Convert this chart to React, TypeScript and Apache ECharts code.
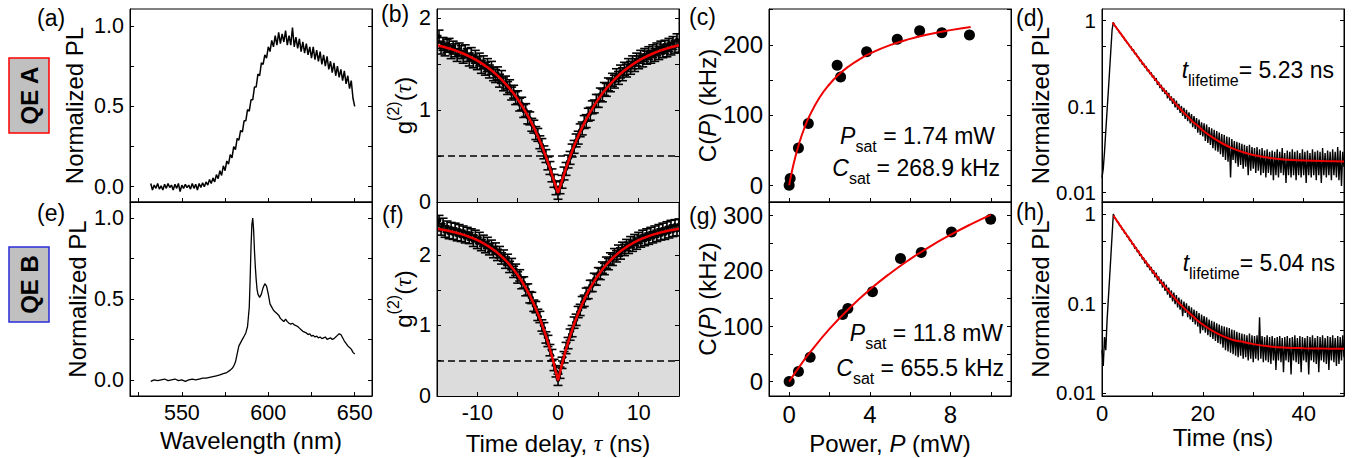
import React, { useEffect, useRef } from 'react';
import * as echarts from 'echarts';

const FONT = '"Liberation Sans", Arial, Helvetica, sans-serif';
const SERIF = '"Liberation Serif", "Times New Roman", serif';
const RED = '#f00000';

// ---------- (a) QE A PL spectrum, 1 nm bins from 532 nm ----------
const A_WL_START = 532;
const A_WL_STEP = 1;
const A_PL = [
  0.02, -0.02, 0.01, -0.01, 0.02, -0.015, 0.005, -0.02, 0.015, -0.01,
  0.02, -0.005, 0.01, -0.02, 0.015, -0.01, 0.02, -0.03, 0.01, -0.01,
  0.015, -0.005, 0.01, -0.015, 0.02, -0.01, 0.015, -0.02, 0.02, -0.005,
  0.025, 0.0, 0.03, 0.01, 0.045, 0.02, 0.055, 0.03, 0.075, 0.05,
  0.1, 0.07, 0.13, 0.1, 0.16, 0.14, 0.2, 0.18, 0.25, 0.23,
  0.3, 0.29, 0.35, 0.34, 0.41, 0.41, 0.48, 0.47, 0.54, 0.54,
  0.62, 0.62, 0.7, 0.69, 0.77, 0.76, 0.82, 0.8, 0.87, 0.84,
  0.91, 0.87, 0.94, 0.88, 0.96, 0.89, 0.95, 0.9, 0.97, 0.88,
  0.94, 0.88, 0.99, 0.87, 0.93, 0.86, 0.92, 0.84, 0.9, 0.83,
  0.89, 0.82, 0.87, 0.8, 0.87, 0.79, 0.85, 0.78, 0.84, 0.76,
  0.82, 0.75, 0.81, 0.73, 0.78, 0.71, 0.77, 0.69, 0.75, 0.68,
  0.73, 0.66, 0.72, 0.64, 0.69, 0.61, 0.66, 0.55, 0.5,
];

// ---------- (e) QE B PL spectrum ----------
const E_WL = [
  532, 534, 536, 538, 540, 542, 544, 546, 548, 550, 552, 554, 556, 558, 560, 562, 564, 566, 568, 570, 572, 574, 576, 578,
  579, 580, 581, 582, 583, 584, 585, 586, 587, 588, 589,
  589.5, 590, 590.5, 591, 591.5, 592, 592.5, 593, 593.5,
  594, 595, 596, 597, 598, 599, 600, 601, 602, 603, 604, 605, 606, 607, 608, 609, 610, 611, 612, 613,
  614, 615, 616, 617, 618, 619, 620, 621, 622, 623, 624, 625, 626, 627, 628, 629, 630, 631, 632, 633,
  634, 635, 636, 637, 638, 639, 640, 641, 642, 643, 644, 645, 646, 647, 648, 649, 650,
];
const E_PL = [
  -0.01, 0.0, -0.005, 0.0, 0.005, -0.005, 0.0, 0.005, -0.005, 0.0, -0.01, 0.0, 0.005, 0.0, 0.005, 0.01, 0.01, 0.015, 0.02, 0.025, 0.03, 0.038, 0.045, 0.06,
  0.07, 0.085, 0.11, 0.16, 0.21, 0.23, 0.25, 0.27, 0.29, 0.33, 0.45,
  0.62, 0.82, 0.96, 1.0, 0.93, 0.8, 0.7, 0.62, 0.56,
  0.53, 0.51, 0.53, 0.57, 0.595, 0.58, 0.53, 0.47, 0.45, 0.43, 0.42, 0.41, 0.4, 0.38, 0.37, 0.36, 0.375, 0.36, 0.35, 0.345,
  0.35, 0.34, 0.335, 0.33, 0.32, 0.31, 0.3, 0.295, 0.29, 0.28, 0.285, 0.27, 0.275, 0.265, 0.27, 0.26, 0.265, 0.255, 0.26, 0.265,
  0.25, 0.255, 0.26, 0.25, 0.255, 0.265, 0.275, 0.285, 0.28, 0.26, 0.24, 0.225, 0.21, 0.2, 0.19, 0.17, 0.16,
];

// ---------- (b)/(f) g2(tau), 0.25 ns bins from -15 ns ----------
const TAU_START = -15;
const TAU_STEP = 0.25;
const B_G2 = [
  1.74, 1.80, 1.68, 1.72, 1.66, 1.70, 1.71, 1.63, 1.68, 1.65,
  1.60, 1.66, 1.63, 1.58, 1.64, 1.60, 1.55, 1.61, 1.53, 1.58,
  1.51, 1.55, 1.47, 1.52, 1.45, 1.49, 1.42, 1.46, 1.39, 1.37,
  1.40, 1.32, 1.36, 1.28, 1.30, 1.24, 1.26, 1.18, 1.20, 1.13,
  1.14, 1.06, 1.07, 0.99, 1.00, 0.92, 0.91, 0.84, 0.82, 0.75,
  0.73, 0.65, 0.62, 0.54, 0.50, 0.42, 0.37, 0.29, 0.23, 0.15,
  0.10,
  0.16, 0.22, 0.31, 0.36, 0.44, 0.48, 0.56, 0.60, 0.67, 0.70,
  0.78, 0.80, 0.87, 0.88, 0.95, 0.96, 1.03, 1.04, 1.10, 1.10,
  1.17, 1.16, 1.23, 1.22, 1.28, 1.27, 1.33, 1.31, 1.38, 1.35,
  1.42, 1.39, 1.45, 1.43, 1.49, 1.46, 1.52, 1.49, 1.55, 1.52,
  1.58, 1.54, 1.60, 1.57, 1.62, 1.58, 1.64, 1.60, 1.66, 1.62,
  1.68, 1.64, 1.69, 1.65, 1.71, 1.67, 1.73, 1.69, 1.76, 1.70,
];
const B_ERR = 0.07;
const FIT_TAU_STEP = 0.5;
const B_FIT = [
  1.706, 1.695, 1.683, 1.671, 1.656, 1.641, 1.624, 1.605, 1.585, 1.562, 1.538, 1.511, 1.481, 1.449, 1.414, 1.375,
  1.333, 1.286, 1.236, 1.180, 1.119, 1.052, 0.979, 0.899, 0.812, 0.716, 0.611, 0.495, 0.369, 0.231, 0.10,
  0.231, 0.369, 0.495, 0.611, 0.716, 0.812, 0.899, 0.979, 1.052, 1.119, 1.180, 1.236, 1.286, 1.333, 1.375,
  1.414, 1.449, 1.481, 1.511, 1.538, 1.562, 1.585, 1.605, 1.624, 1.641, 1.656, 1.671, 1.683, 1.695, 1.706,
];
const F_G2 = [
  2.42, 2.48, 2.36, 2.44, 2.33, 2.40, 2.31, 2.38, 2.30, 2.37,
  2.28, 2.35, 2.27, 2.33, 2.25, 2.31, 2.24, 2.29, 2.20, 2.27,
  2.17, 2.24, 2.14, 2.20, 2.11, 2.17, 2.08, 2.13, 2.04, 2.09,
  2.00, 2.04, 1.95, 1.99, 1.89, 1.93, 1.83, 1.87, 1.76, 1.79,
  1.68, 1.71, 1.60, 1.61, 1.50, 1.51, 1.40, 1.39, 1.28, 1.26,
  1.15, 1.12, 1.00, 0.96, 0.83, 0.78, 0.65, 0.58, 0.44, 0.35,
  0.23,
  0.33, 0.47, 0.55, 0.68, 0.75, 0.87, 0.92, 1.04, 1.08, 1.19,
  1.22, 1.33, 1.35, 1.45, 1.46, 1.56, 1.56, 1.66, 1.65, 1.74,
  1.73, 1.82, 1.80, 1.89, 1.87, 1.95, 1.93, 2.01, 1.98, 2.06,
  2.02, 2.10, 2.07, 2.14, 2.10, 2.18, 2.13, 2.21, 2.16, 2.24,
  2.19, 2.27, 2.21, 2.29, 2.23, 2.31, 2.25, 2.33, 2.27, 2.35,
  2.29, 2.37, 2.30, 2.39, 2.32, 2.41, 2.34, 2.42, 2.35, 2.43,
];
const F_ERR = 0.08;
const F_FIT = [
  2.370, 2.361, 2.351, 2.339, 2.326, 2.311, 2.295, 2.277, 2.256, 2.234, 2.208, 2.180, 2.148, 2.113, 2.073, 2.029,
  1.979, 1.924, 1.862, 1.793, 1.716, 1.630, 1.533, 1.426, 1.305, 1.171, 1.020, 0.853, 0.665, 0.455, 0.22,
  0.455, 0.665, 0.853, 1.020, 1.171, 1.305, 1.426, 1.533, 1.630, 1.716, 1.793, 1.862, 1.924, 1.979, 2.029,
  2.073, 2.113, 2.148, 2.180, 2.208, 2.234, 2.256, 2.277, 2.295, 2.311, 2.326, 2.339, 2.351, 2.361, 2.370,
];

// ---------- (c)/(g) saturation ----------
const C_P = [0, 0.05, 0.46, 0.95, 2.38, 2.55, 3.84, 5.36, 6.47, 7.57, 8.94];
const C_RATE = [0, 9.5, 53, 88, 171, 154, 190, 208, 220, 217, 214];
const C_FIT_P = [0, 0.1, 0.25, 0.5, 0.75, 1, 1.5, 2, 2.5, 3, 3.5, 4, 5, 6, 7, 8, 9];
const C_FIT = [0, 14.6, 33.8, 60.0, 81.0, 98.1, 124.5, 143.8, 158.6, 170.2, 179.6, 187.4, 199.5, 208.4, 215.4, 220.9, 225.3];
const G_P = [0, 0.46, 1.04, 2.65, 2.91, 4.13, 5.52, 6.55, 8.05, 9.99];
const G_RATE = [0, 18, 44, 121, 132, 162, 222, 233, 270, 293];
const G_FIT_P = [0, 0.5, 1, 2, 3, 4, 5, 6, 7, 8, 9, 10];
const G_FIT = [0, 26.6, 51.2, 95.0, 132.9, 166.0, 195.1, 221.0, 244.1, 264.8, 283.6, 300.7];

// ---------- (d)/(h) PL decay, 0.25 ns bins from 0 ns ----------
const T_START = 0;
const T_STEP = 0.25;
const D_PL = [
  0.015, 0.019, 0.03, 0.052, 0.089, 0.15, 0.26, 0.45,
  0.78, 0.96, 0.88, 0.85, 0.80, 0.78, 0.72, 0.71,
  0.66, 0.65, 0.60, 0.59, 0.55, 0.54, 0.50, 0.50,
  0.45, 0.46, 0.41, 0.42, 0.38, 0.38, 0.34, 0.35,
  0.31, 0.32, 0.285, 0.295, 0.26, 0.27, 0.24, 0.25,
  0.22, 0.23, 0.20, 0.215, 0.18, 0.195, 0.165, 0.18,
  0.15, 0.165, 0.14, 0.155, 0.125, 0.145, 0.118, 0.132,
  0.108, 0.125, 0.098, 0.118, 0.092, 0.108, 0.085, 0.102,
  0.078, 0.097, 0.072, 0.092, 0.068, 0.086, 0.064, 0.082,
  0.058, 0.078, 0.055, 0.074, 0.05, 0.071, 0.047, 0.066,
  0.045, 0.064, 0.04, 0.062, 0.038, 0.058, 0.036, 0.056,
  0.033, 0.054, 0.031, 0.052, 0.03, 0.05, 0.028, 0.048,
  0.026, 0.047, 0.024, 0.045, 0.023, 0.044, 0.015, 0.042,
  0.024, 0.04, 0.022, 0.039, 0.02, 0.038, 0.021, 0.037,
  0.019, 0.036, 0.02, 0.035, 0.016, 0.036, 0.018, 0.034,
  0.019, 0.033, 0.017, 0.034, 0.018, 0.032, 0.016, 0.033,
  0.017, 0.031, 0.015, 0.032, 0.017, 0.03, 0.016, 0.031,
  0.014, 0.03, 0.016, 0.032, 0.015, 0.03, 0.017, 0.033,
  0.016, 0.029, 0.013, 0.031, 0.016, 0.03, 0.015, 0.032,
  0.016, 0.03, 0.014, 0.031, 0.016, 0.029, 0.015, 0.032,
  0.016, 0.03, 0.013, 0.031, 0.016, 0.029, 0.015, 0.032,
  0.016, 0.03, 0.014, 0.031, 0.016, 0.03, 0.013, 0.033,
  0.016, 0.029, 0.015, 0.031, 0.016, 0.03, 0.014, 0.032,
  0.016, 0.03, 0.015, 0.034, 0.014, 0.031, 0.012, 0.03,
  0.02,
];
const D_FIT_T = [2.1, 2.5, 3, 3.5, 4, 5, 6, 7, 8, 9, 10, 11, 12, 13, 14, 15, 16, 17, 18, 19, 20, 22, 24, 26, 28, 30, 33, 36, 40, 44, 48];
const D_FIT = [0.953, 0.885, 0.806, 0.735, 0.670, 0.557, 0.464, 0.387, 0.324, 0.271, 0.228, 0.193, 0.163, 0.139, 0.119, 0.102, 0.088, 0.077, 0.067, 0.060, 0.053, 0.0437, 0.0371, 0.0326, 0.0296, 0.0275, 0.0255, 0.0244, 0.0237, 0.0233, 0.0231];
const H_PL = [
  0.03, 0.02, 0.042, 0.03, 0.064, 0.11, 0.19, 0.33,
  0.58, 1.0, 0.91, 0.88, 0.82, 0.80, 0.74, 0.73,
  0.67, 0.665, 0.61, 0.61, 0.55, 0.56, 0.50, 0.51,
  0.455, 0.465, 0.41, 0.425, 0.375, 0.39, 0.34, 0.355,
  0.31, 0.325, 0.28, 0.30, 0.255, 0.275, 0.235, 0.255,
  0.215, 0.235, 0.195, 0.22, 0.18, 0.2, 0.165, 0.185,
  0.15, 0.175, 0.138, 0.162, 0.125, 0.15, 0.115, 0.14,
  0.105, 0.132, 0.098, 0.124, 0.09, 0.116, 0.085, 0.11,
  0.072, 0.105, 0.078, 0.1, 0.07, 0.094, 0.066, 0.09,
  0.062, 0.085, 0.058, 0.082, 0.055, 0.078, 0.046, 0.075,
  0.05, 0.072, 0.047, 0.07, 0.044, 0.066, 0.042, 0.064,
  0.04, 0.062, 0.038, 0.06, 0.036, 0.058, 0.035, 0.056,
  0.032, 0.055, 0.03, 0.054, 0.029, 0.053, 0.028, 0.051,
  0.027, 0.05, 0.026, 0.048, 0.025, 0.047, 0.026, 0.046,
  0.024, 0.045, 0.025, 0.044, 0.023, 0.046, 0.024, 0.044,
  0.022, 0.043, 0.024, 0.044, 0.023, 0.07, 0.024, 0.043,
  0.022, 0.042, 0.023, 0.044, 0.022, 0.042, 0.021, 0.043,
  0.023, 0.041, 0.018, 0.042, 0.023, 0.043, 0.022, 0.041,
  0.017, 0.042, 0.023, 0.043, 0.022, 0.041, 0.016, 0.042,
  0.023, 0.044, 0.022, 0.041, 0.021, 0.043, 0.017, 0.042,
  0.023, 0.041, 0.022, 0.043, 0.016, 0.042, 0.023, 0.044,
  0.022, 0.041, 0.021, 0.043, 0.017, 0.042, 0.023, 0.044,
  0.022, 0.041, 0.021, 0.043, 0.018, 0.042, 0.023, 0.044,
  0.022, 0.041, 0.02, 0.043, 0.021, 0.042, 0.023, 0.044,
  0.025,
];
const H_FIT_T = [2.25, 2.5, 3, 3.5, 4, 5, 6, 7, 8, 9, 10, 11, 12, 13, 14, 15, 16, 17, 18, 19, 20, 22, 24, 26, 28, 30, 33, 36, 40, 44, 48];
const H_FIT = [0.961, 0.916, 0.832, 0.757, 0.688, 0.570, 0.473, 0.393, 0.328, 0.275, 0.231, 0.195, 0.165, 0.141, 0.121, 0.105, 0.092, 0.081, 0.072, 0.064, 0.058, 0.049, 0.043, 0.039, 0.037, 0.035, 0.0331, 0.032, 0.0315, 0.0312, 0.031];

// ---------- ticks & labels ----------
const WL_TICKS = [525, 550, 575, 600, 625, 650];
const WL_LABELS = [550, 600, 650];
const PL_TICKS = [0, 0.25, 0.5, 0.75, 1];
const PL_LABELS = [0, 0.5, 1];
const TAU_TICKS = [-10, -5, 0, 5, 10];
const TAU_LABELS = [-10, 0, 10];
const G2B_TICKS = [0, 0.5, 1, 1.5, 2];
const G2F_TICKS = [0, 0.5, 1, 1.5, 2, 2.5];
const G2_LABELS = [0, 1, 2];
const P_TICKS = [0, 2, 4, 6, 8, 10];
const P_LABELS = [0, 4, 8];
const CC_TICKS = [0, 50, 100, 150, 200, 250];
const CC_LABELS = [0, 100, 200];
const CG_TICKS = [0, 50, 100, 150, 200, 250, 300];
const CG_LABELS = [0, 100, 200, 300];
const T_TICKS = [0, 10, 20, 30, 40];
const T_LABELS = [0, 20, 40];
const LOG_TICKS = [0.01, 0.05, 0.1, 0.5, 1];
const LOG_LABELS = [0.01, 0.1, 1];

const GRIDS = [
  { left: 130, top: 9, width: 242, height: 193 },
  { left: 437, top: 9, width: 242, height: 193 },
  { left: 769, top: 9, width: 242, height: 193 },
  { left: 1102, top: 9, width: 242, height: 193 },
  { left: 130, top: 202, width: 242, height: 194 },
  { left: 437, top: 202, width: 242, height: 194 },
  { left: 769, top: 202, width: 242, height: 194 },
  { left: 1102, top: 202, width: 242, height: 194 },
];

const NAME_RICH = {
  n: { fontSize: 24, fontFamily: FONT, color: '#000', lineHeight: 30, verticalAlign: 'bottom' },
  i: { fontSize: 24, fontFamily: FONT, fontStyle: 'italic', color: '#000', lineHeight: 30, verticalAlign: 'bottom' },
  t: { fontSize: 24, fontFamily: SERIF, fontStyle: 'italic', color: '#000', lineHeight: 30, verticalAlign: 'bottom' },
  sup: { fontSize: 16, fontFamily: FONT, color: '#000', lineHeight: 18, verticalAlign: 'top' },
};
const ANN_RICH = {
  n: { fontSize: 23, fontFamily: FONT, color: '#000', lineHeight: 24, verticalAlign: 'top' },
  i: { fontSize: 23, fontFamily: FONT, fontStyle: 'italic', color: '#000', lineHeight: 24, verticalAlign: 'top' },
  s: { fontSize: 16, fontFamily: FONT, color: '#000', lineHeight: 30, verticalAlign: 'bottom' },
};

const fix1 = (v: number) => v.toFixed(1);
const str = (v: number) => String(Math.round(v * 1000) / 1000);
const logFmt = (v: number) => (v >= 0.99 ? '1' : v >= 0.099 ? '0.1' : '0.01');

function makeAxis(gridIndex: number, position: string, type: string, min: number, max: number,
  ticks: number[], labels: number[] | null, fs: number, fmt: (v: number) => string,
  name?: string, nameGap?: number, rich?: any) {
  const ax: any = {
    type, gridIndex, position, min, max, z: 10,
    axisLine: { show: true, onZero: false, lineStyle: { color: '#000', width: 1 } },
    axisTick: { show: true, inside: true, length: 4, customValues: ticks, lineStyle: { color: '#000', width: 1 } },
    axisLabel: labels
      ? { show: true, customValues: labels, formatter: fmt, fontSize: fs, fontFamily: FONT, color: '#000', margin: 6 }
      : { show: false },
    splitLine: { show: false },
    minorTick: { show: false },
  };
  if (type === 'log') ax.logBase = 10;
  if (name) {
    ax.name = name;
    ax.nameLocation = 'middle';
    ax.nameGap = nameGap;
    ax.nameTextStyle = { fontSize: 24, fontFamily: FONT, color: '#000', rich };
  }
  return ax;
}

const lineS = (gi: number, data: number[][], color: string, width: number, z: number, extra: any = {}) => ({
  type: 'line', xAxisIndex: gi, yAxisIndex: 2 * gi, data, showSymbol: false, symbol: 'none',
  lineStyle: { color, width }, itemStyle: { color }, z, silent: true, clip: true, ...extra,
});

const errS = (gi: number, data: number[][], err: number) => ({
  type: 'custom', xAxisIndex: gi, yAxisIndex: 2 * gi, z: 3, silent: true, clip: true,
  data: data.map(([x, y]) => [x, y, err]),
  renderItem: (_params: any, api: any) => {
    const x = api.value(0), y = api.value(1), e = api.value(2);
    const p0 = api.coord([x, y + e]);
    const p1 = api.coord([x, y - e]);
    const c = api.coord([x, y]);
    const hw = 4.5;
    const st = { stroke: '#000', lineWidth: 1.6 };
    return {
      type: 'group',
      children: [
        { type: 'line', shape: { x1: p0[0], y1: p0[1], x2: p1[0], y2: p1[1] }, style: st },
        { type: 'line', shape: { x1: p0[0] - hw, y1: p0[1], x2: p0[0] + hw, y2: p0[1] }, style: st },
        { type: 'line', shape: { x1: p1[0] - hw, y1: p1[1], x2: p1[0] + hw, y2: p1[1] }, style: st },
        { type: 'circle', shape: { cx: c[0], cy: c[1], r: 2.2 }, style: { fill: '#000' } },
      ],
    };
  },
});

const g2Area = (gi: number, data: number[][]) => lineS(gi, data, '#dcdcdc', 0, 1, {
  areaStyle: { color: '#dcdcdc', opacity: 1 },
  markLine: {
    silent: true, symbol: ['none', 'none'], label: { show: false },
    lineStyle: { color: '#000', type: [7, 4], width: 1.5 },
    data: [{ yAxis: 0.5 }],
  },
});

function buildOption() {
  const aData = A_PL.map((v, i) => [A_WL_START + i * A_WL_STEP, v]);
  const eData = E_WL.map((w, i) => [w, E_PL[i]]);
  const bData = B_G2.map((v, i) => [TAU_START + i * TAU_STEP, v]);
  const fData = F_G2.map((v, i) => [TAU_START + i * TAU_STEP, v]);
  const bFit = B_FIT.map((v, i) => [TAU_START + i * FIT_TAU_STEP, v]);
  const fFit = F_FIT.map((v, i) => [TAU_START + i * FIT_TAU_STEP, v]);
  const cPts = C_P.map((p, i) => [p, C_RATE[i]]);
  const gPts = G_P.map((p, i) => [p, G_RATE[i]]);
  const cFit = C_FIT_P.map((p, i) => [p, C_FIT[i]]);
  const gFit = G_FIT_P.map((p, i) => [p, G_FIT[i]]);
  const dData = D_PL.map((v, i) => [T_START + i * T_STEP, v]);
  const hData = H_PL.map((v, i) => [T_START + i * T_STEP, v]);
  const dFit = D_FIT_T.map((t, i) => [t, D_FIT[i]]);
  const hFit = H_FIT_T.map((t, i) => [t, H_FIT[i]]);

  const g2Name = '{n|g}{sup|(2)}{n|(}{t|τ}{n|)}';
  const cName = '{n|C(}{i|P}{n|) (kHz)}';

  const xAxis = [
    makeAxis(0, 'bottom', 'value', 520, 660, WL_TICKS, null, 21.5, str),
    makeAxis(1, 'bottom', 'value', -15, 15, TAU_TICKS, null, 21.5, str),
    makeAxis(2, 'bottom', 'value', -1, 11, P_TICKS, null, 24, str),
    makeAxis(3, 'bottom', 'value', 0, 48, T_TICKS, null, 21.5, str),
    makeAxis(4, 'bottom', 'value', 520, 660, WL_TICKS, WL_LABELS, 21.5, str, 'Wavelength (nm)', 32),
    makeAxis(5, 'bottom', 'value', -15, 15, TAU_TICKS, TAU_LABELS, 21.5, str, '{n|Time delay, }{t|τ}{n| (ns)}', 29, NAME_RICH),
    makeAxis(6, 'bottom', 'value', -1, 11, P_TICKS, P_LABELS, 24, str, '{n|Power, }{i|P}{n| (mW)}', 29, NAME_RICH),
    makeAxis(7, 'bottom', 'value', 0, 48, T_TICKS, T_LABELS, 22, str, 'Time (ns)', 29),
  ];
  const yAxis = [
    makeAxis(0, 'left', 'value', -0.095, 1.105, PL_TICKS, PL_LABELS, 21.5, fix1, 'Normalized PL', 44),
    makeAxis(0, 'right', 'value', -0.095, 1.105, PL_TICKS, null, 21.5, fix1),
    makeAxis(1, 'left', 'value', 0, 2.1, G2B_TICKS, G2_LABELS, 21.5, str, g2Name, 17, NAME_RICH),
    makeAxis(1, 'right', 'value', 0, 2.1, G2B_TICKS, null, 21.5, str),
    makeAxis(2, 'left', 'value', -24, 251, CC_TICKS, CC_LABELS, 24, str, cName, 46, NAME_RICH),
    makeAxis(2, 'right', 'value', -24, 251, CC_TICKS, null, 24, str),
    makeAxis(3, 'left', 'log', 0.0078, 1.368, LOG_TICKS, LOG_LABELS, 20.5, logFmt, 'Normalized PL', 40),
    makeAxis(3, 'right', 'log', 0.0078, 1.368, LOG_TICKS, null, 20.5, logFmt),
    makeAxis(4, 'left', 'value', -0.1, 1.1, PL_TICKS, PL_LABELS, 21.5, fix1, 'Normalized PL', 41),
    makeAxis(4, 'right', 'value', -0.1, 1.1, PL_TICKS, null, 21.5, fix1),
    makeAxis(5, 'left', 'value', 0, 2.75, G2F_TICKS, G2_LABELS, 21.5, str, g2Name, 17, NAME_RICH),
    makeAxis(5, 'right', 'value', 0, 2.75, G2F_TICKS, null, 21.5, str),
    makeAxis(6, 'left', 'value', -26, 324, CG_TICKS, CG_LABELS, 24, str, cName, 46, NAME_RICH),
    makeAxis(6, 'right', 'value', -26, 324, CG_TICKS, null, 24, str),
    makeAxis(7, 'left', 'log', 0.0092, 1.36, LOG_TICKS, LOG_LABELS, 20.5, logFmt, 'Normalized PL', 42),
    makeAxis(7, 'right', 'log', 0.0092, 1.36, LOG_TICKS, null, 20.5, logFmt),
  ];

  const dot = { color: '#000', opacity: 1 };
  const series: any[] = [
    lineS(0, aData, '#000', 1.5, 2),
    lineS(4, eData, '#000', 1.3, 2),
    g2Area(1, bData),
    errS(1, bData, B_ERR),
    lineS(1, bFit, RED, 2.5, 5),
    g2Area(5, fData),
    errS(5, fData, F_ERR),
    lineS(5, fFit, RED, 2.5, 5),
    { type: 'scatter', xAxisIndex: 2, yAxisIndex: 4, data: cPts, symbolSize: 11, itemStyle: dot, z: 3, silent: true },
    lineS(2, cFit, RED, 2, 5, { smooth: true }),
    { type: 'scatter', xAxisIndex: 6, yAxisIndex: 12, data: gPts, symbolSize: 11, itemStyle: dot, z: 3, silent: true },
    lineS(6, gFit, RED, 2, 5, { smooth: true }),
    lineS(3, dData, '#000', 1.4, 2),
    lineS(3, dFit, RED, 2, 5, { smooth: 0.3 }),
    lineS(7, hData, '#000', 1.4, 2),
    lineS(7, hFit, RED, 2, 5, { smooth: 0.3 }),
  ];

  const panelLabel = (text: string, x: number, y: number) => ({
    type: 'text', x, y, silent: true,
    style: { text, fontSize: 23, fontFamily: FONT, fill: '#000', align: 'left', verticalAlign: 'middle' },
  });
  const ann = (text: string, x: number, y: number) => ({
    type: 'text', x, y, silent: true, z: 20,
    style: { text, rich: ANN_RICH, align: 'right', verticalAlign: 'top', fill: '#000', fontSize: 23, fontFamily: FONT },
  });
  const qeBox = (text: string, y: number, stroke: string) => ([
    { type: 'rect', shape: { x: 9, y, width: 40, height: 75 }, style: { fill: '#c0c0c0', stroke, lineWidth: 1.5 }, silent: true },
    {
      type: 'text', x: 29, y: y + 37.5, rotation: Math.PI / 2, silent: true,
      style: { text, fontSize: 24, fontWeight: 'bold', fontFamily: FONT, fill: '#000', align: 'center', verticalAlign: 'middle' },
    },
  ]);

  const graphic = [
    panelLabel('(a)', 37, 18), panelLabel('(b)', 381, 14), panelLabel('(c)', 689, 17),
    panelLabel('(d)', 1016, 18), panelLabel('(e)', 37, 213), panelLabel('(f)', 382, 215),
    panelLabel('(g)', 689, 216), panelLabel('(h)', 1016, 212),
    ...qeBox('QE A', 58, '#ff0000'),
    ...qeBox('QE B', 247, '#2a2ad8'),
    ann('{i|P}{s|sat}{n| = 1.74 mW}', 995, 124),
    ann('{i|C}{s|sat}{n| = 268.9 kHz}', 1000, 156),
    ann('{i|P}{s|sat}{n| = 11.8 mW}', 1003, 321),
    ann('{i|C}{s|sat}{n| = 655.5 kHz}', 1004, 356),
    ann('{i|t}{s|lifetime}{n|= 5.23 ns}', 1334, 58),
    ann('{i|t}{s|lifetime}{n|= 5.04 ns}', 1335, 251),
  ];

  return {
    animation: false,
    backgroundColor: '#ffffff',
    textStyle: { fontFamily: FONT },
    grid: GRIDS.map((g) => ({ ...g, containLabel: false, show: true, borderColor: '#000', borderWidth: 1, backgroundColor: 'transparent' })),
    xAxis,
    yAxis,
    series,
    graphic,
  };
}

export default function App() {
  const ref = useRef<HTMLDivElement>(null);
  useEffect(() => {
    if (!ref.current) return;
    const chart = echarts.init(ref.current, undefined, { renderer: 'svg' });
    chart.setOption(buildOption() as any);
    return () => chart.dispose();
  }, []);
  return <div ref={ref} style={{ position: 'fixed', left: 0, top: 0, width: 1364, height: 458, background: '#fff' }} />;
}
